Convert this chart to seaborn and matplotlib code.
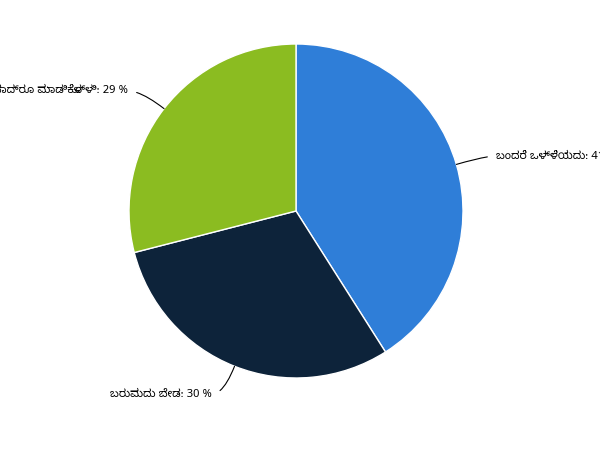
import numpy as np
import seaborn as sns
import matplotlib.pyplot as plt

# data
labels = ["ಬಂದರೆ ಒಳ್ಳೆಯದು", "ಬರುವುದು ಬೇಡ", "ಏನಾದ್ರೂ ಮಾಡಿಕೊಳ್ಳಿ"]
shares = [41, 30, 29]
colors = ["#2f7ed8", "#0d233a", "#8bbc21"]

sns.set_style("white")
plt.rcParams["font.family"] = ["Noto Sans Kannada", "Noto Sans", "DejaVu Sans"]

fig = plt.figure(figsize=(6, 4.5), dpi=100)
# pie centred at (296, 211) px with radius 167 px
ax = fig.add_axes([129 / 600, 72 / 450, 334 / 600, 334 / 450])
wedges, _ = ax.pie(shares, colors=colors, startangle=90, counterclock=False,
                   radius=1, wedgeprops=dict(edgecolor="white", linewidth=1))
ax.set_xlim(-1, 1)
ax.set_ylim(-1, 1)
ax.axis("off")

# label placement: offsets from wedge edge (in radius units), alignment
label_offsets = [(0.238, 0.05, "left"), (-0.135, -0.166, "right"), (-0.216, 0.106, "right")]
for w, lab, val, (dx, dy, ha) in zip(wedges, labels, shares, label_offsets):
    mid = (w.theta1 + w.theta2) / 2
    ang = np.deg2rad(mid)
    x, y = np.cos(ang), np.sin(ang)
    relpos = (0, 0.5) if ha == "left" else (1, 0.5)
    ax.annotate(f"{lab}: {val} %", xy=(x, y), xytext=(x + dx, y + dy),
                ha=ha, va="center", fontsize=8, fontweight="bold",
                color="#000000", annotation_clip=False,
                arrowprops=dict(arrowstyle="-", color="#000000", lw=0.8,
                                shrinkA=4, shrinkB=0, relpos=relpos,
                                connectionstyle=f"angle3,angleA=0,angleB={mid:.1f}"))

fig.savefig("out.png", dpi=100)
